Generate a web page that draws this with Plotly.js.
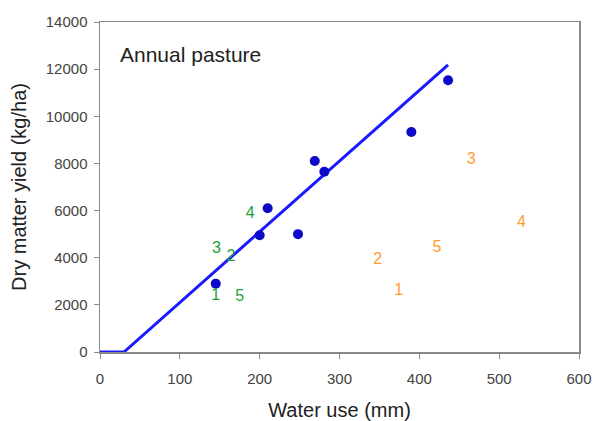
<!DOCTYPE html>
<html>
<head>
<meta charset="utf-8">
<script src="https://cdn.plot.ly/plotly-3.0.1.min.js"></script>
<style>html,body{margin:0;padding:0;background:#fff;}#chart{width:595px;height:421px;}</style>
</head>
<body>
<div id="chart"></div>
<script>
// Observed data (blue dots)
const obsX = [145, 200, 210, 248, 269, 281, 390, 436];
const obsY = [2900, 4950, 6100, 5000, 8100, 7650, 9330, 11530];
// Boundary line
const lineX = [0, 30, 436];
const lineY = [0, 0, 12180];
// Green numbered points
const greenX = [145, 164, 146, 188, 175];
const greenY = [2360, 4050, 4370, 5850, 2330];
const greenLabels = ["1", "2", "3", "4", "5"];
// Orange numbered points
const orangeX = [374, 348, 465, 528, 422];
const orangeY = [2580, 3910, 8150, 5460, 4420];
const orangeLabels = ["1", "2", "3", "4", "5"];
const xTicks = [0, 100, 200, 300, 400, 500, 600];
const yTicks = [0, 2000, 4000, 6000, 8000, 10000, 12000, 14000];

const font = "Liberation Sans, Arial, sans-serif";
const traces = [
  {x: lineX, y: lineY, mode: 'lines', line: {color: '#1a1aff', width: 3}, cliponaxis: false, hoverinfo: 'skip'},
  {x: obsX, y: obsY, mode: 'markers', marker: {color: '#0a0ac8', size: 10}, cliponaxis: false},
  {x: greenX, y: greenY, mode: 'text', text: greenLabels, textposition: 'middle center',
   textfont: {family: font, size: 16, color: '#1f9e3a'}},
  {x: orangeX, y: orangeY, mode: 'text', text: orangeLabels, textposition: 'middle center',
   textfont: {family: font, size: 16, color: '#ff9b2e'}}
];
const layout = {
  width: 595, height: 421,
  margin: {l: 100, r: 16, t: 22, b: 69, pad: 0},
  showlegend: false,
  paper_bgcolor: '#fff', plot_bgcolor: '#fff',
  font: {family: font, color: '#333'},
  xaxis: {
    range: [0, 600], tickvals: xTicks, ticktext: xTicks.map(String),
    showgrid: false, zeroline: false, showline: true, linecolor: '#8a8a8a', linewidth: 1.5, mirror: true,
    ticks: 'outside', ticklen: 5, tickcolor: '#8a8a8a', tickfont: {size: 15, color: '#444'},
    ticklabelstandoff: 7,
    title: {text: 'Water use (mm)', font: {size: 20, color: '#222'}, standoff: 18}
  },
  yaxis: {
    range: [0, 14000], tickvals: yTicks, ticktext: yTicks.map(String),
    showgrid: false, zeroline: false, showline: true, linecolor: '#8a8a8a', linewidth: 1.5, mirror: true,
    ticks: 'outside', ticklen: 5, tickcolor: '#8a8a8a', tickfont: {size: 15, color: '#444'},
    ticklabelstandoff: 3,
    title: {text: 'Dry matter yield (kg/ha)', font: {size: 20, color: '#222'}, standoff: 14}
  },
  annotations: [{
    x: 22, y: 12640, xref: 'x', yref: 'y', xanchor: 'left', yanchor: 'middle',
    text: 'Annual pasture', showarrow: false, font: {size: 21, color: '#222', family: font}
  }]
};
Plotly.newPlot('chart', traces, layout, {displayModeBar: false, staticPlot: true});
</script>
</body>
</html>
